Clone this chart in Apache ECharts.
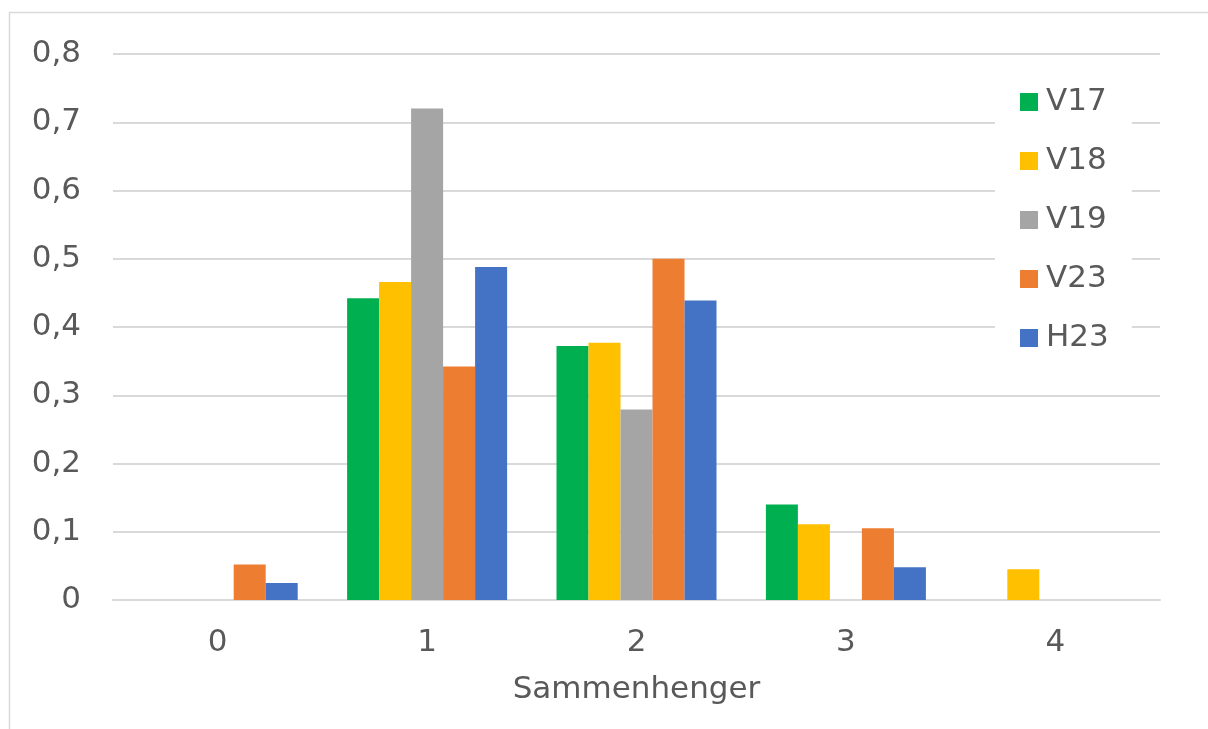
<!DOCTYPE html>
<html>
<head>
<meta charset="utf-8">
<title>Sammenhenger</title>
<script src="https://cdn.jsdelivr.net/npm/echarts@6/dist/echarts.min.js"></script>
<style>
  html, body { margin: 0; padding: 0; background: #ffffff; }
  #chart { width: 1208px; height: 729px; }
</style>
</head>
<body>
<div id="chart"></div>
<script>
// Antall sammenhenger per elev, andel per undersøkelse
const categories = ['0', '1', '2', '3', '4'];
const seriesNames = ['V17', 'V18', 'V19', 'V23', 'H23'];
const v17 = [0, 0.442, 0.372, 0.140, 0];
const v18 = [0, 0.466, 0.377, 0.111, 0.045];
const v19 = [0, 0.720, 0.279, 0, 0];
const v23 = [0.052, 0.342, 0.500, 0.105, 0];
const h23 = [0.025, 0.488, 0.439, 0.048, 0];
const yTicks = { min: 0, max: 0.8, interval: 0.1 };

const colors = ['#00b050', '#ffc000', '#a5a5a5', '#ed7d31', '#4472c4'];
const values = [v17, v18, v19, v23, h23];
const textColor = '#595959';
const font = "'DejaVu Sans', Verdana, sans-serif";

const chart = echarts.init(document.getElementById('chart'), null, { renderer: 'canvas' });

chart.setOption({
  backgroundColor: '#ffffff',
  animation: false,
  color: colors,
  graphic: [{
    type: 'rect',
    z: -10,
    shape: { x: 9.5, y: 12.5, width: 1260, height: 800 },
    style: { fill: 'none', stroke: '#d9d9d9', lineWidth: 1.5 }
  }],
  grid: { left: 113, right: 48, top: 54, bottom: 129, containLabel: false },
  legend: {
    orient: 'vertical',
    left: 995,
    top: 81,
    padding: [2, 23, 2, 25],
    backgroundColor: '#ffffff',
    itemWidth: 18,
    itemHeight: 18,
    itemGap: 21,
    icon: 'rect',
    data: seriesNames,
    textStyle: { color: textColor, fontSize: 31, fontFamily: font, lineHeight: 38, padding: [0, 0, 0, 3] },
    z: 10
  },
  xAxis: {
    type: 'category',
    data: categories,
    name: 'Sammenhenger',
    nameLocation: 'middle',
    nameGap: 74,
    nameTextStyle: { color: textColor, fontSize: 31, fontFamily: font },
    axisLine: { lineStyle: { color: '#d9d9d9', width: 2 } },
    axisTick: { show: false },
    axisLabel: { color: textColor, fontSize: 31, fontFamily: font, margin: 27 }
  },
  yAxis: {
    type: 'value',
    min: yTicks.min,
    max: yTicks.max,
    interval: yTicks.interval,
    axisLine: { show: false },
    axisTick: { show: false },
    splitLine: { lineStyle: { color: '#d9d9d9', width: 2 } },
    axisLabel: {
      color: textColor, fontSize: 31, fontFamily: font, margin: 32,
      formatter: v => (v === 0 ? '0' : v.toFixed(1).replace('.', ','))
    }
  },
  series: seriesNames.map((name, i) => ({
    name,
    type: 'bar',
    data: values[i],
    barWidth: 32,
    barGap: '0%',
    itemStyle: { color: colors[i] }
  }))
});
</script>
</body>
</html>
